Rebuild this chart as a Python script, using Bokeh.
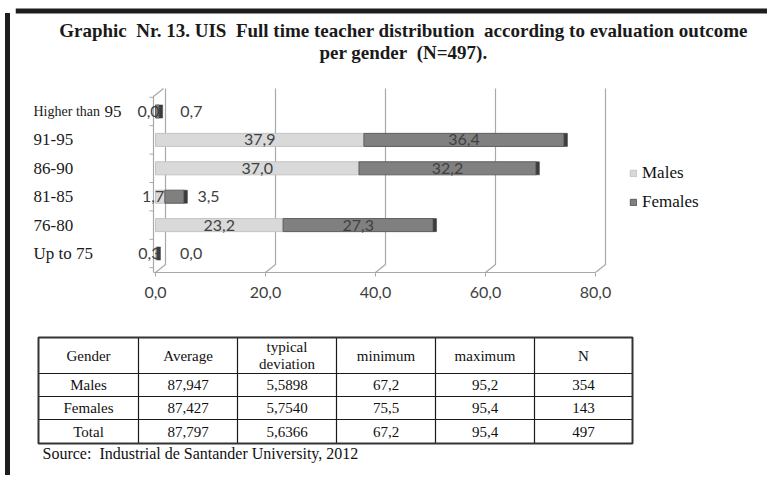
from bokeh.plotting import figure
from bokeh.layouts import column, row
from bokeh.models import Range1d, FixedTicker, Legend, LegendItem, ColumnDataSource, Div
from bokeh.core.properties import value
from bokeh.embed import file_html
from bokeh.resources import INLINE

# ---------------- data ----------------
categories = ["Up to 75", "76-80", "81-85", "86-90", "91-95", "Higher than 95"]
males = [0.3, 23.2, 1.7, 37.0, 37.9, 0.0]
females = [0.0, 27.3, 3.5, 32.2, 36.4, 0.7]
series_names = ["Males", "Females"]
x_ticks = [0, 20, 40, 60, 80]
x_tick_labels = ["0,0", "20,0", "40,0", "60,0", "80,0"]

title_lines = ["Graphic\u00a0 Nr. 13. UIS\u00a0 Full time teacher distribution\u00a0 according to evaluation outcome",
               "per gender\u00a0 (N=497)."]

table_header = ["Gender", "Average", "typical\ndeviation", "minimum", "maximum", "N"]
table_gender = ["Males", "Females", "Total"]
table_average = [87.947, 87.427, 87.797]
table_deviation = [5.5898, 5.7540, 5.6366]
table_minimum = [67.2, 75.5, 67.2]
table_maximum = [95.2, 95.4, 95.4]
table_n = [354, 143, 497]
source_note = "Source:\u00a0 Industrial de Santander University, 2012"

# ---------------- layout constants (page pixels) ----------------
BORDER_W = 5
LEFT = 8 + BORDER_W   # page x where figures start (after the border div)
RIGHT = 765
TOP = 0               # page y of the figures' top
A_FRAME_H = 272 - TOP # frame: page y TOP .. 272
A_AXIS_H = 34
B_H = 164
X0 = 153.0         # page x of value 0
PXU = 5.5          # px per unit
Y0 = 253.0         # page y of first category
ROW = 28.4         # px per category

def dx(px):
    return (px - X0) / PXU

def dy(py):
    return (Y0 - py) / ROW

SERIF = value("Liberation Serif")
SANS = value("Lato")

def comma(v, nd):
    return f"{v:.{nd}f}".replace(".", ",")

# ---------------- chart figure ----------------
p = figure(frame_width=RIGHT - LEFT, frame_height=A_FRAME_H,
           x_range=Range1d(dx(LEFT), dx(RIGHT)), y_range=Range1d(dy(272), dy(TOP)),
           output_backend="svg", toolbar_location=None, y_axis_location=None,
           min_border=0, min_border_bottom=A_AXIS_H)
p.outline_line_color = None
p.xgrid.visible = False
p.ygrid.visible = False
p.background_fill_color = "white"
p.border_fill_color = "white"

# top frame border
p.quad(left=[dx(LEFT)], right=[dx(RIGHT)], top=[dy(8)], bottom=[dy(13)],
       fill_color="#1e1e1e", line_color=None)

# title
p.text(x=[dx(401), dx(401)], y=[dy(30), dy(52)], text=title_lines,
       text_align="center", text_baseline="middle", text_font=SERIF,
       text_font_style="bold", text_font_size="19px", text_color="#1a1a1a")

# 3D-ish walls: back gridlines with floor slants
DDX = 10 / PXU
floor_front = dy(272)
floor_back = dy(264)
top_back = dy(88)
gx, gy = [], []
for v in x_ticks:
    gx.append([v, v + DDX, v + DDX])
    gy.append([floor_front, floor_back, top_back])
# left front edge
gx.append([dx(151), dx(151), dx(151) + DDX])
gy.append([floor_front, dy(96), top_back])
p.multi_line(xs=gx, ys=gy, line_color="#a8a8a8", line_width=1.2)

# small ticks on left wall
ys_idx = list(range(len(categories)))
tick_ys = [i + 0.5 for i in range(-1, len(categories))]
p.segment(x0=[dx(147)] * len(tick_ys), x1=[dx(151)] * len(tick_ys), y0=tick_ys, y1=tick_ys,
          line_color="#a8a8a8", line_width=1)

# category labels
small_txt, small_y, big_txt, big_y, big_off = [], [], [], [], []
for i, c in enumerate(categories):
    if c.startswith("Higher than"):
        small_txt.append("Higher than")
        small_y.append(i)
        big_txt.append(c[len("Higher than"):].strip())
        big_y.append(i)
        big_off.append(71)
    else:
        big_txt.append(c)
        big_y.append(i)
        big_off.append(0)
p.text(x=[dx(31)] * len(small_txt), y=small_y, text=small_txt, text_align="left",
       text_baseline="middle", text_font=SERIF, text_font_size="14px", text_color="#1a1a1a")
p.text(x=[dx(31)] * len(big_txt), y=big_y, text=big_txt, x_offset=big_off, text_align="left",
       text_baseline="middle", text_font=SERIF, text_font_size="17px", text_color="#1a1a1a")

# bars
totals = [m + f for m, f in zip(males, females)]
src = ColumnDataSource(dict(
    y=ys_idx, males=males, females=females, total=totals,
    cap=[t + 0.6 for t in totals],
    mx=[m / 2 for m in males],
    fx=[m + f / 2 for m, f in zip(males, females)],
    mlab=[comma(m, 1) for m in males],
    flab=[comma(f, 1) for f in females],
    moff=[-7 if m < 5 else 0 for m in males],
    foff=[34 if f < 5 else 0 for f in females],
))
BH = 0.46
rm = p.hbar(y="y", left=0, right="males", height=BH, source=src,
            fill_color="#d9d9d9", line_color="#c4c4c4", line_width=1)
rf = p.hbar(y="y", left="males", right="total", height=BH, source=src,
            fill_color="#808080", line_color="#5e5e5e", line_width=1)
p.hbar(y="y", left="total", right="cap", height=BH, source=src,
       fill_color="#3c3c3c", line_color="#3c3c3c", line_width=0.5)

p.text(x="mx", y="y", text="mlab", x_offset="moff", source=src, text_align="center",
       text_baseline="middle", text_font=SANS, text_font_size="16px", text_color="#404040")
p.text(x="fx", y="y", text="flab", x_offset="foff", source=src, text_align="center",
       text_baseline="middle", text_font=SANS, text_font_size="16px", text_color="#404040")

# axis
ax = p.xaxis[0]
ax.ticker = FixedTicker(ticks=x_ticks)
ax.major_label_overrides = {t: l for t, l in zip(x_ticks, x_tick_labels)}
ax.bounds = (dx(151), x_ticks[-1])
ax.axis_line_color = "#a8a8a8"
ax.axis_line_width = 1.2
ax.major_tick_line_color = "#a8a8a8"
ax.major_tick_in = 0
ax.major_tick_out = 4
ax.minor_tick_line_color = None
ax.major_label_standoff = 10
ax.major_label_text_font = "Lato"
ax.major_label_text_font_size = "16px"
ax.major_label_text_color = "#404040"

# legend
legend = Legend(items=[LegendItem(label=series_names[0], renderers=[rm]),
                       LegendItem(label=series_names[1], renderers=[rf])],
                location=(627 - LEFT, 60), orientation="vertical",
                border_line_color=None, background_fill_alpha=0,
                padding=0, margin=0, spacing=9, label_height=20,
                glyph_height=8, glyph_width=8, label_standoff=5,
                label_text_font="Liberation Serif", label_text_font_size="17px",
                label_text_color="#111111", label_text_baseline="middle")
p.add_layout(legend)

# ---------------- table figure (page-pixel coordinates) ----------------
B_TOP = TOP + A_FRAME_H + A_AXIS_H
q = figure(frame_width=RIGHT - LEFT, frame_height=B_H,
           x_range=Range1d(LEFT, RIGHT), y_range=Range1d(B_TOP + B_H, B_TOP),
           output_backend="svg", toolbar_location=None,
           x_axis_location=None, y_axis_location=None, min_border=0)
q.outline_line_color = None
q.xgrid.visible = False
q.ygrid.visible = False

col_x = [36, 136, 235, 334, 433, 532, 630]
row_y = [337, 373, 396, 419, 443]
# inner lines
q.segment(x0=[col_x[0]] * (len(row_y) - 2), x1=[col_x[-1]] * (len(row_y) - 2),
          y0=row_y[1:-1], y1=row_y[1:-1], line_color="#1a1a1a", line_width=1.2)
q.segment(x0=col_x[1:-1], x1=col_x[1:-1], y0=[row_y[0]] * (len(col_x) - 2),
          y1=[row_y[-1]] * (len(col_x) - 2), line_color="#1a1a1a", line_width=1.2)
# outer border
q.quad(left=[col_x[0]], right=[col_x[-1]], top=[row_y[0]], bottom=[row_y[-1]],
       fill_color=None, line_color="#333333", line_width=2)

centers = [(a + b) / 2 for a, b in zip(col_x[:-1], col_x[1:])]
hx, hy, ht = [], [], []
hmid = (row_y[0] + row_y[1]) / 2
for cx, h in zip(centers, table_header):
    parts = h.split("\n")
    for k, part in enumerate(parts):
        hx.append(cx)
        hy.append(hmid + (k - (len(parts) - 1) / 2) * 17)
        ht.append(part)
q.text(x=hx, y=hy, text=ht, text_align="center", text_baseline="middle",
       text_font=SERIF, text_font_size="15px", text_color="#111111")

tx, ty, tt = [], [], []
for r in range(len(table_gender)):
    vals = [table_gender[r], comma(table_average[r], 3), comma(table_deviation[r], 4),
            comma(table_minimum[r], 1), comma(table_maximum[r], 1), str(table_n[r])]
    cy = (row_y[r + 1] + row_y[r + 2]) / 2
    for cx, v in zip(centers, vals):
        tx.append(cx)
        ty.append(cy)
        tt.append(v)
q.text(x=tx, y=ty, text=tt, text_align="center", text_baseline="middle",
       text_font=SERIF, text_font_size="15px", text_color="#111111")

q.text(x=[40], y=[453], text=[source_note], text_align="left", text_baseline="middle",
       text_font=SERIF, text_font_size="16px", text_color="#111111")

total_h = A_FRAME_H + A_AXIS_H + B_H
border = Div(width=BORDER_W, height=total_h,
             styles={"background": "linear-gradient(to bottom, white 8px, #1e1e1e 8px)"})

layout = row(border, column(p, q))
open("out.html", "w").write(file_html(layout, INLINE))
